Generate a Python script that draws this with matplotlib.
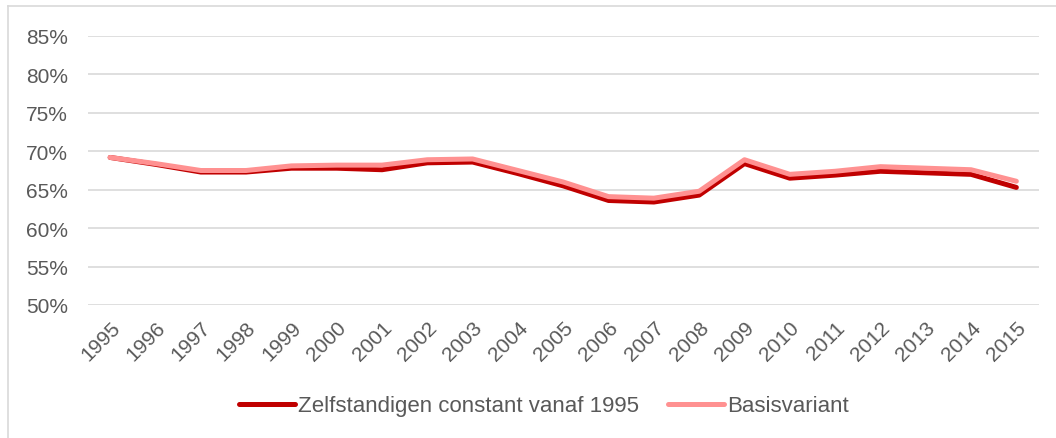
import matplotlib.pyplot as plt
from matplotlib.lines import Line2D

plt.rcParams['font.family'] = ['Liberation Sans', 'DejaVu Sans']

years = [str(y) for y in range(1995, 2016)]
zelfstandigen = [69.2, 68.3, 67.3, 67.3, 67.8, 67.8, 67.6, 68.5, 68.6, 67.1, 65.5,
                 63.6, 63.4, 64.3, 68.4, 66.5, 66.9, 67.4, 67.2, 67.0, 65.3]
basis = [69.2, 68.4, 67.5, 67.5, 68.1, 68.2, 68.2, 68.9, 69.0, 67.5, 66.0,
         64.1, 63.9, 64.8, 68.9, 67.0, 67.4, 68.0, 67.8, 67.6, 66.1]

W, H = 1056, 439
fig = plt.figure(figsize=(W / 100, H / 100), dpi=100)
ax = fig.add_axes([87.5 / W, 1 - 306 / H, (1039 - 87.5) / W, (306 - 37) / H])

x = range(len(years))
ax.plot(x, zelfstandigen, color='#C00000', lw=3.6, solid_capstyle='round',
        solid_joinstyle='round', zorder=2)
ax.plot(x, basis, color='#FF9191', lw=3.6, solid_capstyle='round',
        solid_joinstyle='round', zorder=3)

ax.set_xlim(-0.5, len(years) - 0.5)
ax.set_ylim(50, 85)
ax.set_yticks(range(50, 86, 5), labels=[f'{v}%' for v in range(50, 86, 5)])
ax.set_xticks(list(x), labels=years, rotation=45, ha='right', va='top',
              rotation_mode='anchor')
ax.tick_params(axis='both', length=0, labelsize=15, labelcolor='#595959')
ax.tick_params(axis='x', pad=9)
ax.tick_params(axis='y', pad=14)
ax.grid(axis='y', color='#D9D9D9', lw=1.2)
ax.set_axisbelow(True)
for s in ax.spines.values():
    s.set_visible(False)

handles = [Line2D([], [], color='#C00000', lw=3.6, solid_capstyle='round'),
           Line2D([], [], color='#FF9191', lw=3.6, solid_capstyle='round')]
fig.legend(handles, ['Zelfstandigen constant vanaf 1995', 'Basisvariant'],
           loc='center', bbox_to_anchor=(544 / W, 1 - 407 / H), ncol=2,
           frameon=False, fontsize=16, labelcolor='#595959', handlelength=2.5,
           handletextpad=0.15, columnspacing=1.3)

# light frame around the chart
fig.add_artist(Line2D([8 / W, 8 / W], [0, 1 - 7 / H], color='#D9D9D9', lw=1.2))
fig.add_artist(Line2D([8 / W, 1], [1 - 7 / H, 1 - 7 / H], color='#D9D9D9', lw=1.2))

fig.savefig('out.png', dpi=100)
